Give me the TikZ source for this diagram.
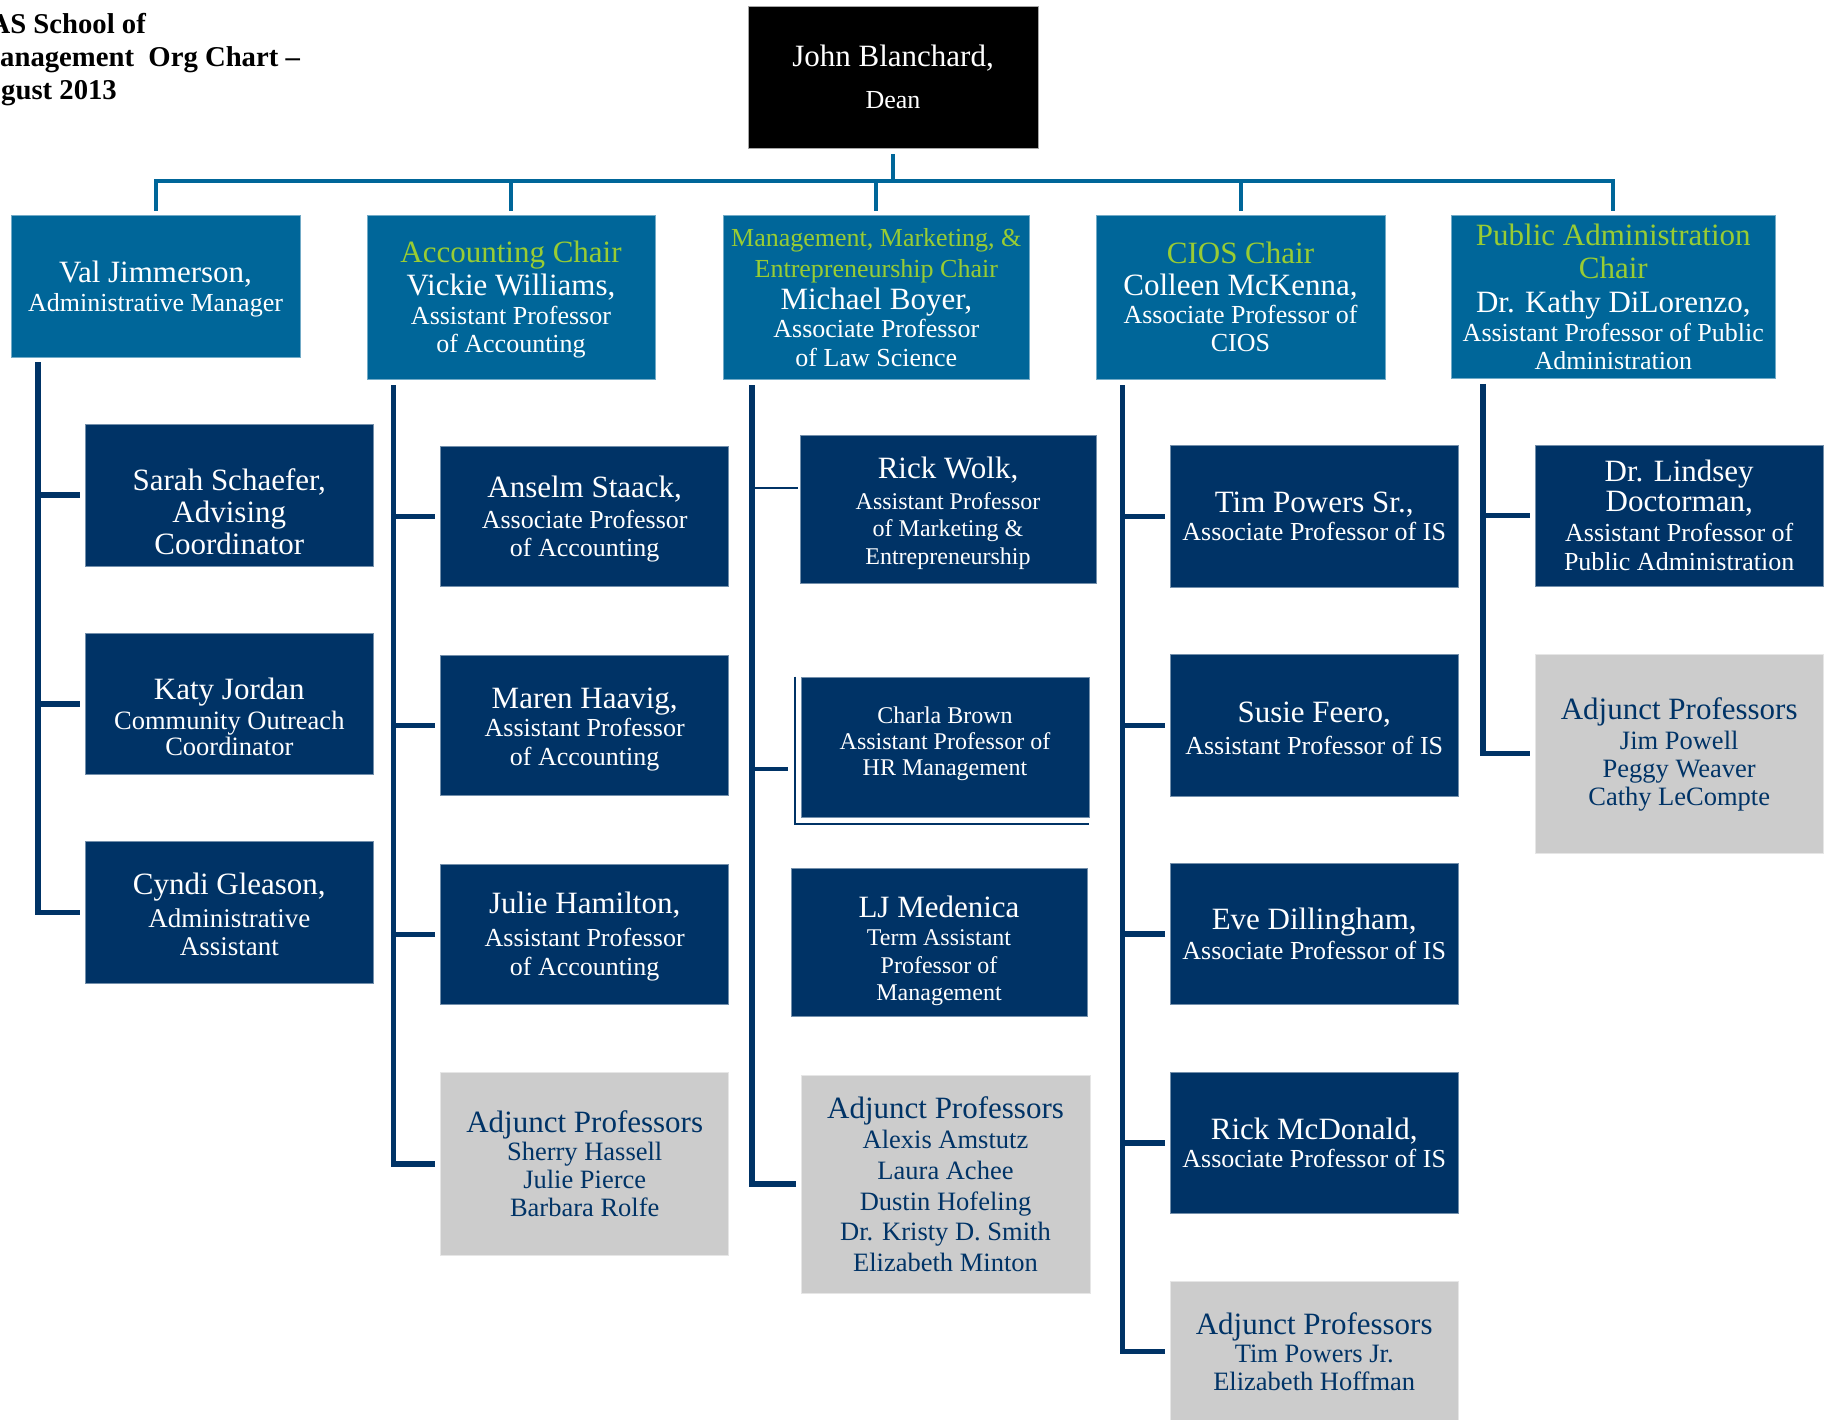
\documentclass[tikz,border=0pt]{standalone}
\usepackage{fontspec}
\setmainfont{Liberation Serif}
\definecolor{deptblue}{RGB}{0,102,153}
\definecolor{staffnavy}{RGB}{0,51,102}
\definecolor{adjgray}{RGB}{204,204,204}
\definecolor{chairgreen}{RGB}{153,204,51}
% larger size used for the name lines
\newcommand{\pname}[1]{{\fontsize{31}{31}\selectfont #1}}
\newcommand{\chairtitle}[1]{{\color{chairgreen}#1}}
% invisible struts that move a text block down (top) or up (bottom) in its box
\newcommand{\topstrut}[1]{\rule{0pt}{#1pt}}
\newcommand{\botstrut}[1]{\rule[-#1pt]{0pt}{#1pt}}
\begin{document}
\begin{tikzpicture}[x=1pt,y=-1pt,
  boxsize/.style 2 args={minimum width=#1pt, minimum height=#2pt},
  deanbox/.style={rectangle, inner sep=0pt, fill=black, draw=gray!70, line width=0.8pt, text=white, align=center},
  lvlone/.style={rectangle, inner sep=0pt, fill=deptblue, draw=deptblue!55!white, line width=0.8pt, text=white, align=center},
  staffbox/.style={rectangle, inner sep=0pt, fill=staffnavy, draw=staffnavy!55!white, line width=0.8pt, text=white, align=center},
  adjbox/.style={rectangle, inner sep=0pt, fill=adjgray, draw=adjgray!50!white, line width=0.8pt, text=staffnavy, align=center},
  titletext/.style={inner sep=0pt, anchor=base west, font=\fontsize{28.7}{33}\selectfont\bfseries},
  barline/.style={draw=deptblue, line width=4pt},
  spine/.style={draw=staffnavy, line width=5.5pt, shorten >=5pt},
  thinlink/.style={draw=staffnavy, line width=1.3pt, shorten >=1.3pt},
]
\useasboundingbox (0,0) rectangle (1828,1419);
\clip (0,0) rectangle (1828,1419);

% heading
\node[titletext] (titleA) at (-10.6,33) {AS School of};
\node[titletext] (titleB) at (0,66) {anagement\ \ Org Chart –};
\node[titletext] (titleC) at (1,99) {gust 2013};

% dean
\node[deanbox, boxsize={290}{142}, font=\fontsize{26}{42}\selectfont] (dean) at (893,77)
  {\pname{John Blanchard,}\\Dean};

% department heads
\node[lvlone, boxsize={289}{141.5}, font=\fontsize{26}{29}\selectfont] (val) at (155.5,286.2)
  {\topstrut{28}\pname{Val Jimmerson,}\\Administrative Manager};
\node[lvlone, boxsize={288}{163.6}, font=\fontsize{26}{28.5}\selectfont] (acc) at (511,297.3)
  {\topstrut{26}\pname{\chairtitle{Accounting Chair}}\\[5.3pt]\pname{Vickie Williams,}\\Assistant Professor\\of Accounting};
\node[lvlone, boxsize={306}{163.6}, font=\fontsize{26}{28.6}\selectfont] (mme) at (876.3,297.3)
  {\chairtitle{Management, Marketing, \&}\\[2.4pt]\chairtitle{Entrepreneurship Chair}\\[3.5pt]\pname{Michael Boyer,}\\Associate Professor\\of Law Science};
\node[lvlone, boxsize={289}{163.6}, font=\fontsize{26}{28}\selectfont] (cios) at (1240.5,297.3)
  {\pname{\chairtitle{CIOS Chair}}\\[4pt]\pname{Colleen McKenna,}\\Associate Professor of\\CIOS};
\node[lvlone, boxsize={324}{162.5}, font=\fontsize{26}{28.5}\selectfont] (pa) at (1613.3,296.7)
  {\pname{\chairtitle{Public Administration}}\\[5.3pt]\pname{\chairtitle{Chair}}\\[5.3pt]\pname{Dr. Kathy DiLorenzo,}\\Assistant Professor of Public\\Administration};

% administration staff
\node[staffbox, boxsize={288.5}{141.5}, font=\fontsize{31}{32}\selectfont] (sarah) at (229.3,495.2)
  {\topstrut{55}Sarah Schaefer,\\Advising\\Coordinator};
\node[staffbox, boxsize={288.5}{141.5}, font=\fontsize{26.5}{26}\selectfont] (katy) at (229.3,704)
  {\topstrut{47}\pname{Katy Jordan}\\[4pt]Community Outreach\\Coordinator};
\node[staffbox, boxsize={288.5}{141.5}, font=\fontsize{27}{28}\selectfont] (cyndi) at (229.3,912.5)
  {\topstrut{26}\pname{Cyndi Gleason,}\\[5pt]Administrative\\Assistant};

% accounting
\node[staffbox, boxsize={288}{140}, font=\fontsize{26}{28.5}\selectfont] (anselm) at (584.7,516.5)
  {\topstrut{27}\pname{Anselm Staack,}\\[2pt]Associate Professor\\of Accounting};
\node[staffbox, boxsize={288}{140}, font=\fontsize{26}{28.5}\selectfont] (maren) at (584.7,725.5)
  {\topstrut{28}\pname{Maren Haavig,}\\Assistant Professor\\of Accounting};
\node[staffbox, boxsize={288}{140}, font=\fontsize{26}{29}\selectfont] (julie) at (584.7,934.5)
  {\topstrut{26}\pname{Julie Hamilton,}\\[3.5pt]Assistant Professor\\of Accounting};
\node[adjbox, boxsize={288}{183}, font=\fontsize{26.5}{28}\selectfont] (accadj) at (584.7,1164)
  {\pname{Adjunct Professors}\\Sherry Hassell\\Julie Pierce\\Barbara Rolfe};

% management, marketing & entrepreneurship
\node[staffbox, boxsize={296}{148}, font=\fontsize{24}{27.8}\selectfont] (rick) at (948,509)
  {\topstrut{30.4}\pname{Rick Wolk,}\\[2.5pt]Assistant Professor\\of Marketing \&\\Entrepreneurship};
\node[staffbox, boxsize={288}{140}, font=\fontsize{24}{26.2}\selectfont] (charla) at (945,747)
  {Charla Brown\\Assistant Professor of\\HR Management\botstrut{12.2}};
\node[staffbox, boxsize={296}{148}, font=\fontsize{24}{27.5}\selectfont] (lj) at (939,942)
  {\topstrut{39}\pname{LJ Medenica}\\[1pt]Term Assistant\\Professor of\\Management};
\node[adjbox, boxsize={289}{218}, font=\fontsize{26.5}{30.7}\selectfont] (mmeadj) at (945.5,1184)
  {\pname{Adjunct Professors}\\Alexis Amstutz\\Laura Achee\\Dustin Hofeling\\Dr. Kristy D. Smith\\Elizabeth Minton};

% CIOS
\node[staffbox, boxsize={288.5}{141.3}, font=\fontsize{26}{28.3}\selectfont] (tim) at (1314.2,516.3)
  {\pname{Tim Powers Sr.,}\\Associate Professor of IS};
\node[staffbox, boxsize={288.5}{141.3}, font=\fontsize{26}{28.3}\selectfont] (susie) at (1314.2,725.5)
  {\topstrut{26}\pname{Susie Feero,}\\[4pt]Assistant Professor of IS};
\node[staffbox, boxsize={288.5}{141.3}, font=\fontsize{26}{28.3}\selectfont] (eve) at (1314.2,934)
  {\pname{Eve Dillingham,}\\[2pt]Associate Professor of IS};
\node[staffbox, boxsize={288.5}{141.3}, font=\fontsize{26}{28.3}\selectfont] (rickmc) at (1314.2,1143)
  {\pname{Rick McDonald,}\\Associate Professor of IS};
\node[adjbox, boxsize={288.5}{141.3}, font=\fontsize{26.5}{28.2}\selectfont] (ciosadj) at (1314.2,1351.7)
  {\pname{Adjunct Professors}\\Tim Powers Jr.\\Elizabeth Hoffman};

% public administration
\node[staffbox, boxsize={288.3}{141}, font=\fontsize{26}{29.8}\selectfont] (doctorman) at (1679.2,515.5)
  {\pname{Dr. Lindsey}\\\pname{Doctorman,}\\Assistant Professor of\\Public Administration};
\node[adjbox, boxsize={288.3}{199.3}, font=\fontsize{26.5}{28}\selectfont] (paadj) at (1679.2,753.7)
  {\topstrut{23}\pname{Adjunct Professors}\\[1.5pt]Jim Powell\\Peggy Weaver\\Cathy LeCompte};

% dean to department heads
\coordinate (barlevel) at (893,181);
\draw[barline] ([yshift=-5.7pt]dean.south) -- (dean.south |- barlevel);
\draw[barline] ([yshift=4.5pt]val.north) -- (val.north |- barlevel) -- (pa.north |- barlevel) -- ([yshift=4.5pt]pa.north);
\foreach \d in {acc,mme,cios}
  \draw[barline] (\d.north |- barlevel) -- ([yshift=4.5pt]\d.north);

% administration branch
\coordinate (valtop) at ([xshift=27.5pt,yshift=-5pt]val.south west);
\draw[spine] (valtop) |- (cyndi.west);
\foreach \k in {sarah,katy}
  \draw[spine] (valtop |- \k.west) -- (\k.west);

% accounting branch
\coordinate (acctop) at ([xshift=27pt,yshift=-5.5pt]acc.south west);
\draw[spine] (acctop) |- (accadj.west);
\foreach \k in {anselm,maren,julie}
  \draw[spine] (acctop |- \k.west) -- (\k.west);

% management branch
\coordinate (mmetop) at ([xshift=29pt,yshift=-5.5pt]mme.south west);
\draw[spine] (mmetop) |- (mmeadj.west);
\coordinate (rickjoin) at ([yshift=21pt]rick.west);
\draw[thinlink] (mmetop |- rickjoin) -- (rickjoin);
\coordinate (charlajoin) at ([yshift=-21.7pt]charla.west);
\draw[spine, line width=4pt, shorten >=13pt] (mmetop |- charlajoin) -- (charlajoin);
\draw[staffnavy, line width=2pt] ([xshift=-6pt]charla.north west) |- ([yshift=-7pt]charla.south east);

% CIOS branch
\coordinate (ciostop) at ([xshift=27pt,yshift=-5.5pt]cios.south west);
\draw[spine] (ciostop) |- (ciosadj.west);
\foreach \k in {tim,susie,eve,rickmc}
  \draw[spine] (ciostop |- \k.west) -- (\k.west);

% public administration branch
\coordinate (patop) at ([xshift=32pt,yshift=-5.5pt]pa.south west);
\draw[spine] (patop) |- (paadj.west);
\draw[spine] (patop |- doctorman.west) -- (doctorman.west);
\end{tikzpicture}
\end{document}
